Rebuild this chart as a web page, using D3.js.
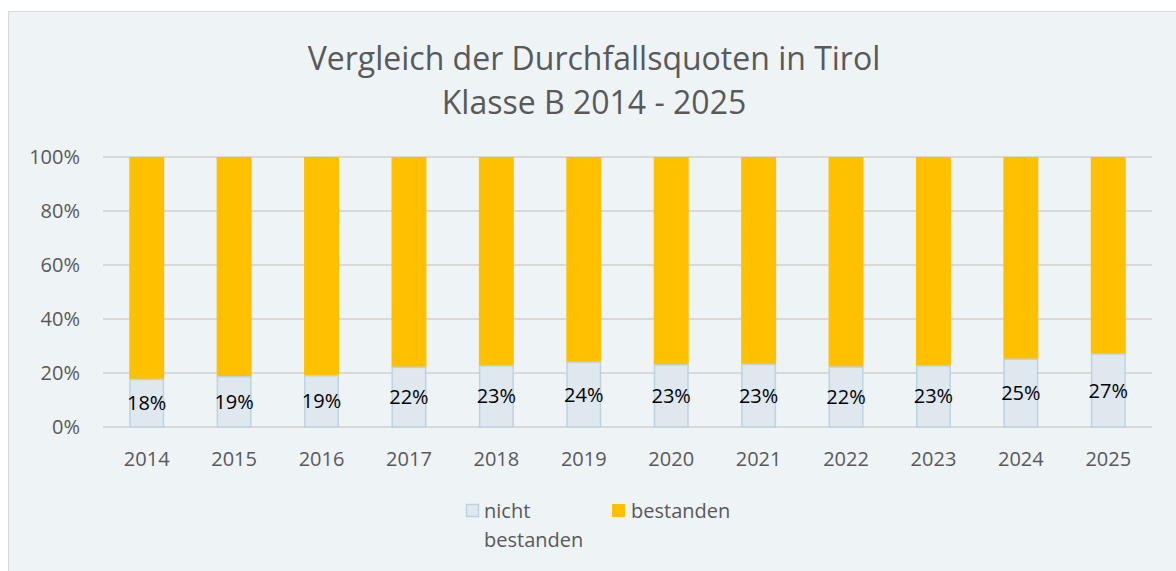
<!DOCTYPE html>
<html>
<head>
<meta charset="utf-8">
<script src="https://cdn.jsdelivr.net/npm/d3@7"></script>
<style>
  body { margin: 0; background: #fff; overflow: hidden; }
  svg { display: block; font-family: "Open Sans", "Noto Sans", sans-serif; }
</style>
</head>
<body>
<div id="chart"></div>
<script>
const years = ["2014", "2015", "2016", "2017", "2018", "2019", "2020", "2021", "2022", "2023", "2024", "2025"];
// share "nicht bestanden" per year (rest = bestanden)
const nichtBestanden = [0.176, 0.186, 0.190, 0.221, 0.226, 0.240, 0.230, 0.232, 0.222, 0.226, 0.251, 0.270];
const yTicks = [0, 0.2, 0.4, 0.6, 0.8, 1.0];
const titleLines = ["Vergleich der Durchfallsquoten in Tirol", "Klasse B 2014 - 2025"];
const seriesNames = ["nicht bestanden", "bestanden"];

const width = 1176, height = 571;
const margin = { top: 157, right: 24, bottom: 144, left: 103 };
const innerWidth = width - margin.left - margin.right;
const innerHeight = height - margin.top - margin.bottom;

const colorFail = "#DFE7EF";
const colorFailStroke = "#BCD3E2";
const colorPass = "#FFC000";
const textColor = "#595959";

const svg = d3.select("#chart").append("svg")
  .attr("width", width)
  .attr("height", height);

// chart panel
svg.append("rect")
  .attr("x", 8.5).attr("y", 11.5)
  .attr("width", width - 8).attr("height", height - 11)
  .attr("fill", "#EEF3F6")
  .attr("stroke", "#D9D9D9");

// title
svg.append("text")
  .attr("x", 594)
  .attr("y", 70)
  .attr("text-anchor", "middle")
  .attr("font-size", "32px")
  .attr("fill", textColor)
  .selectAll("tspan")
  .data(titleLines)
  .enter()
  .append("tspan")
  .attr("x", 594)
  .attr("dy", (d, i) => i === 0 ? 0 : 44)
  .text(d => d);

const inner = svg.append("g")
  .attr("transform", `translate(${margin.left},${margin.top})`);

const xScale = d3.scaleBand()
  .domain(years)
  .range([0, innerWidth])
  .paddingInner(0.6)
  .paddingOuter(0.3);

const yScale = d3.scaleLinear()
  .domain([0, 1])
  .range([innerHeight, 0]);

// gridlines
inner.selectAll(".grid")
  .data(yTicks)
  .enter()
  .append("line")
  .attr("x1", 0)
  .attr("x2", innerWidth)
  .attr("y1", d => yScale(d))
  .attr("y2", d => yScale(d))
  .attr("stroke", "#D9D9D9")
  .attr("stroke-width", 2);

// y axis labels
const yAxis = inner.append("g")
  .call(d3.axisLeft(yScale).tickValues(yTicks).tickFormat(d3.format(".0%")).tickSize(0).tickPadding(23));
yAxis.select(".domain").remove();
yAxis.selectAll("text")
  .attr("font-family", "Open Sans, Noto Sans, sans-serif")
  .attr("font-size", "20px")
  .attr("fill", textColor);

// x axis labels
const xAxis = inner.append("g")
  .attr("transform", `translate(0,${innerHeight})`)
  .call(d3.axisBottom(xScale).tickSize(0).tickPadding(25));
xAxis.select(".domain").remove();
xAxis.selectAll("text")
  .attr("font-family", "Open Sans, Noto Sans, sans-serif")
  .attr("font-size", "20px")
  .attr("fill", textColor);

const rows = years.map((y, i) => ({ year: y, fail: nichtBestanden[i] }));

// bestanden (top)
inner.selectAll(".pass")
  .data(rows)
  .enter()
  .append("rect")
  .attr("class", "pass")
  .attr("x", d => xScale(d.year))
  .attr("y", yScale(1))
  .attr("width", xScale.bandwidth())
  .attr("height", d => yScale(d.fail) - yScale(1))
  .attr("fill", colorPass);

// nicht bestanden (bottom)
inner.selectAll(".fail")
  .data(rows)
  .enter()
  .append("rect")
  .attr("class", "fail")
  .attr("x", d => xScale(d.year) + 0.75)
  .attr("y", d => yScale(d.fail))
  .attr("width", xScale.bandwidth() - 1.5)
  .attr("height", d => yScale(0) - yScale(d.fail))
  .attr("fill", colorFail)
  .attr("stroke", colorFailStroke)
  .attr("stroke-width", 1.5);

// value labels
inner.selectAll(".val")
  .data(rows)
  .enter()
  .append("text")
  .attr("class", "val")
  .attr("x", d => xScale(d.year) + xScale.bandwidth() / 2)
  .attr("y", d => (yScale(0) + yScale(d.fail)) / 2)
  .attr("dy", "0.35em")
  .attr("text-anchor", "middle")
  .attr("font-size", "20px")
  .attr("fill", "#000")
  .text(d => d3.format(".0%")(d.fail));

// legend
const legend = svg.append("g");
legend.append("rect")
  .attr("x", 466.5).attr("y", 504.5)
  .attr("width", 12).attr("height", 12)
  .attr("fill", colorFail)
  .attr("stroke", colorFailStroke)
  .attr("stroke-width", 1.5);
legend.append("text")
  .attr("x", 484).attr("y", 518)
  .attr("font-size", "20px")
  .attr("fill", textColor)
  .selectAll("tspan")
  .data(seriesNames[0].split(" "))
  .enter()
  .append("tspan")
  .attr("x", 484)
  .attr("dy", (d, i) => i === 0 ? 0 : 29)
  .text(d => d);
legend.append("rect")
  .attr("x", 612).attr("y", 504)
  .attr("width", 13).attr("height", 13)
  .attr("fill", colorPass);
legend.append("text")
  .attr("x", 631).attr("y", 518)
  .attr("font-size", "20px")
  .attr("fill", textColor)
  .text(seriesNames[1]);
</script>
</body>
</html>
